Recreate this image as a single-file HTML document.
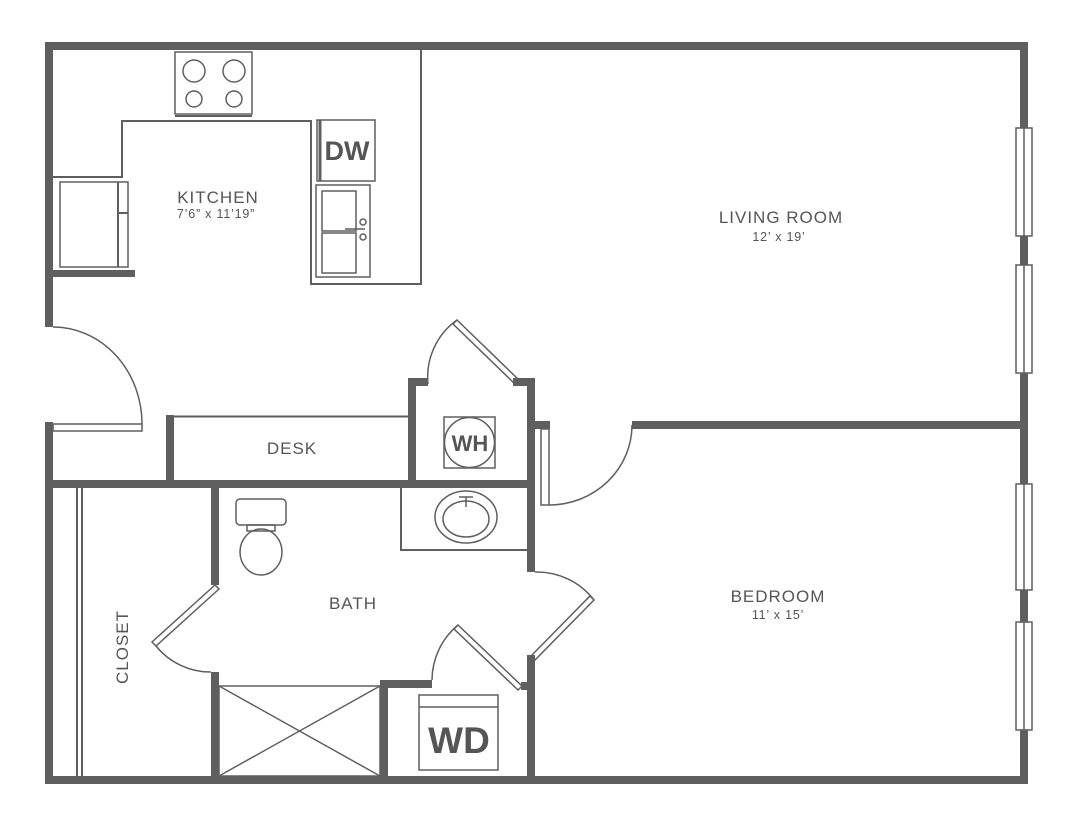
<!DOCTYPE html>
<html><head><style>
html,body{margin:0;padding:0;background:#fff;width:1078px;height:832px;overflow:hidden}
text{font-family:"Liberation Sans",sans-serif;fill:#555}
.l{font-size:17px;letter-spacing:1px}
.s{font-size:12.5px;letter-spacing:0.8px}
</style></head><body>
<svg width="1078" height="832" viewBox="0 0 1078 832" xmlns="http://www.w3.org/2000/svg">
<g fill="#5f5f5f">
<rect x="45" y="42" width="983" height="8"/>
<rect x="45" y="776" width="983" height="8"/>
<rect x="45" y="42" width="8" height="285"/>
<rect x="45" y="422" width="8" height="362"/>
<rect x="1020" y="42" width="8" height="742"/>
<rect x="53" y="270" width="82" height="7"/>
<rect x="166" y="415" width="8" height="70"/>
<rect x="53" y="480" width="482" height="8"/>
<rect x="408" y="378" width="8" height="106"/>
<rect x="408" y="378" width="20" height="8"/>
<rect x="513" y="378" width="22" height="8"/>
<rect x="527" y="378" width="8" height="194"/>
<rect x="527" y="655" width="8" height="125"/>
<rect x="521" y="682" width="14" height="8"/>
<rect x="535" y="421" width="15" height="8"/>
<rect x="632" y="421" width="390" height="8"/>
<rect x="211" y="488" width="8" height="97"/>
<rect x="211" y="672" width="8" height="106"/>
<rect x="380" y="680" width="8" height="98"/>
<rect x="380" y="680" width="52" height="8"/>
</g>
<g fill="none" stroke="#5f5f5f" stroke-width="1.5">
<rect x="1016" y="128" width="16" height="108" fill="#fff"/><line x1="1024" y1="128" x2="1024" y2="236"/>
<rect x="1016" y="265" width="16" height="108" fill="#fff"/><line x1="1024" y1="265" x2="1024" y2="373"/>
<rect x="1016" y="484" width="16" height="106" fill="#fff"/><line x1="1024" y1="484" x2="1024" y2="590"/>
<rect x="1016" y="622" width="16" height="108" fill="#fff"/><line x1="1024" y1="622" x2="1024" y2="730"/>
<rect x="53" y="424" width="89" height="7"/>
<path d="M53 327 A89 97 0 0 1 142 424"/>
<path d="M421 50 V284 H311 V121 H122 V177 H53" stroke-width="2"/>
<rect x="175" y="52" width="77" height="62"/>
<line x1="175" y1="116" x2="252" y2="116" stroke-width="2"/>
<circle cx="194" cy="71" r="11"/><circle cx="234" cy="71" r="11"/>
<circle cx="194" cy="99" r="8"/><circle cx="234" cy="99" r="8"/>
<rect x="60" y="182" width="68" height="85"/>
<line x1="118" y1="182" x2="118" y2="267" stroke-width="2"/>
<line x1="118" y1="213" x2="128" y2="213" stroke-width="2"/>
<rect x="317" y="120" width="58" height="61"/>
<line x1="320" y1="120" x2="320" y2="181" stroke-width="3"/>
<rect x="316" y="185" width="54" height="92"/>
<rect x="322" y="191" width="34" height="40"/>
<rect x="322" y="233" width="34" height="40"/>
<circle cx="363" cy="222" r="3"/><circle cx="363" cy="237" r="3"/>
<line x1="345" y1="229" x2="365" y2="229"/>
<line x1="174" y1="416.5" x2="408" y2="416.5" stroke-width="2"/>
<rect x="444" y="417" width="51" height="51"/>
<circle cx="469.5" cy="442.5" r="25"/>
<path d="M428 384 A70 70 0 0 1 457 320"/>
<path d="M457 320 L520 381 L516 385 L453 324 Z"/>
<rect x="541" y="429" width="8" height="76"/>
<path d="M549 505 A83 80 0 0 0 632 425"/>
<path d="M527 550 H401 V488" stroke-width="2"/>
<ellipse cx="466" cy="517" rx="31" ry="26"/>
<ellipse cx="466" cy="519" rx="23" ry="18"/>
<path d="M459 497 H473 M466 497 V507"/>
<rect x="236" y="499" width="50" height="26" rx="4"/>
<rect x="247" y="525" width="28" height="6"/>
<ellipse cx="261" cy="552" rx="21" ry="23"/>
<path d="M535 572 A72 72 0 0 1 594 600"/>
<path d="M594 600 L535 660 L531 656 L590 596 Z"/>
<path d="M215 585 L152 642 L156 646 L219 589 Z"/>
<path d="M156 646 A70 70 0 0 0 211 672"/>
<path d="M432 680 A72 72 0 0 1 458 625"/>
<path d="M458 625 L522 686 L518 690 L454 629 Z"/>
<rect x="419" y="695" width="79" height="75"/>
<line x1="419" y1="707" x2="498" y2="707"/>
<rect x="219" y="686" width="161" height="90"/>
<path d="M219 686 L380 776 M380 686 L219 776"/>
<line x1="77" y1="488" x2="77" y2="776" stroke-width="2"/>
<line x1="82" y1="488" x2="82" y2="776" stroke-width="2"/>
</g>
<g text-anchor="middle">
<text x="218" y="203" class="l">KITCHEN</text>
<text x="216" y="218" class="s">7’6” x 11’19”</text>
<text x="781" y="223" class="l">LIVING ROOM</text>
<text x="779" y="241" class="s">12’ x 19’</text>
<text x="778" y="602" class="l">BEDROOM</text>
<text x="778" y="619" class="s">11’ x 15’</text>
<text x="292" y="454" class="l">DESK</text>
<text x="353" y="609" class="l">BATH</text>
<text x="0" y="0" class="l" transform="translate(128,647) rotate(-90)">CLOSET</text>
<text x="470" y="451" font-size="22" font-weight="bold">WH</text>
<text x="347" y="160" font-size="27" font-weight="bold">DW</text>
<text x="459" y="753" font-size="37" font-weight="bold">WD</text>
</g>
</svg>
</body></html>
